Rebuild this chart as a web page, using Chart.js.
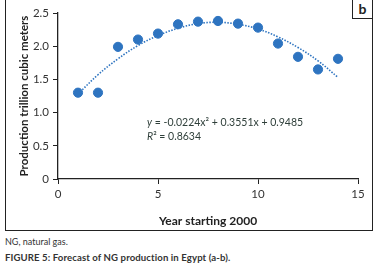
<!DOCTYPE html>
<html>
<head>
<meta charset="utf-8">
<script src="https://cdn.jsdelivr.net/npm/chart.js@4"></script>
<style>
  body { margin: 0; background: #fff; width: 379px; height: 270px; overflow: hidden; font-family: Lato, "Open Sans", sans-serif; }
  #wrap { position: absolute; left: 0; top: 0; width: 379px; height: 232px; }
  #frame { position: absolute; left: 5px; top: -2px; width: 366px; height: 232px; border: 1.5px solid #222; border-top: none; }
  #tag { position: absolute; left: 352px; top: -2px; width: 19px; height: 20px; border-left: 1.5px solid #222; border-bottom: 1.5px solid #222; font: bold 14px Lato, sans-serif; text-align: center; line-height: 21px; color: #222; background: #fff; }
  .eq { position: absolute; left: 147px; font: 10.5px Lato, sans-serif; color: #2f3f3a; white-space: nowrap; }
  .note { position: absolute; left: 5px; top: 236px; font: 9px Lato, sans-serif; color: #333; }
  .cap { position: absolute; left: 5px; top: 252px; font: bold 9.6px Lato, sans-serif; color: #333; letter-spacing: 0.1px; }
</style>
</head>
<body>
<div id="wrap"><canvas id="c" width="379" height="232"></canvas></div>
<div id="frame"></div>
<div id="tag">b</div>
<div class="eq" style="top:116px"><i>y</i> = -0.0224x² + 0.3551x + 0.9485</div>
<div class="eq" style="top:130px"><i>R</i>² = 0.8634</div>
<div class="note">NG, natural gas.</div>
<div class="cap">FIGURE 5: Forecast of NG production in Egypt (a-b).</div>
<script>
// years since 2000 and observed production
const years = [1, 2, 3, 4, 5, 6, 7, 8, 9, 10, 11, 12, 13, 14];
const production = [1.30, 1.30, 1.99, 2.10, 2.19, 2.33, 2.37, 2.38, 2.34, 2.28, 2.04, 1.84, 1.65, 1.81];
// polynomial trendline values as drawn
const trendYears = [1, 2, 3, 4, 5, 6, 7, 8, 9, 10, 11, 12, 13, 14];
const trendValues = [1.28, 1.57, 1.81, 2.01, 2.16, 2.27, 2.34, 2.36, 2.33, 2.26, 2.14, 1.98, 1.78, 1.53];
const xTicks = [0, 5, 10, 15];
const yTicks = [0, 0.5, 1.0, 1.5, 2.0, 2.5];

const blue = '#2e74c0';
const ctx = document.getElementById('c');

new Chart(ctx, {
  type: 'scatter',
  data: {
    datasets: [{
      label: 'Production',
      data: years.map((x, i) => ({x: x, y: production[i]})),
      backgroundColor: blue,
      borderColor: blue,
      pointRadius: 4.6,
      order: 0
    }, {
      type: 'line',
      label: 'Trend',
      data: trendYears.map((x, i) => ({x: x, y: trendValues[i]})),
      borderColor: blue,
      borderWidth: 1.6,
      borderDash: [1.5, 1.5],
      pointRadius: 0,
      tension: 0.4,
      fill: false,
      order: 1
    }]
  },
  options: {
    responsive: false,
    animation: false,
    layout: {
      padding: {top: 13, right: 21, left: 13, bottom: 0}
    },
    plugins: {
      legend: {display: false},
      tooltip: {enabled: false}
    },
    scales: {
      x: {
        type: 'linear',
        min: 0,
        max: 15,
        afterBuildTicks: s => { s.ticks = xTicks.map(v => ({value: v})); },
        afterFit: s => { s.height = 53; },
        grid: {drawOnChartArea: false, drawTicks: true, tickLength: 5, color: '#222'},
        border: {color: '#222', width: 1.3},
        ticks: {color: '#333', font: {family: 'Lato', size: 11.5}, padding: 3},
        title: {
          display: true,
          text: 'Year starting 2000',
          color: '#222',
          font: {family: 'Lato', size: 12, weight: 'bold'},
          padding: {top: 4}
        }
      },
      y: {
        min: 0,
        max: 2.5,
        afterBuildTicks: s => { s.ticks = yTicks.map(v => ({value: v})); },
        afterFit: s => { s.width = 45; },
        grid: {drawOnChartArea: false, drawTicks: true, tickLength: 5, color: '#222'},
        border: {color: '#222', width: 1.3},
        ticks: {
          color: '#333',
          font: {family: 'Lato', size: 11.5},
          padding: 4,
          callback: v => v === 0 ? '0' : v.toFixed(1)
        },
        title: {
          display: true,
          text: 'Production trillion cubic meters',
          color: '#222',
          font: {family: 'Lato', size: 11.5, weight: 'bold'},
          padding: {bottom: 2}
        }
      }
    }
  }
});
</script>
</body>
</html>
